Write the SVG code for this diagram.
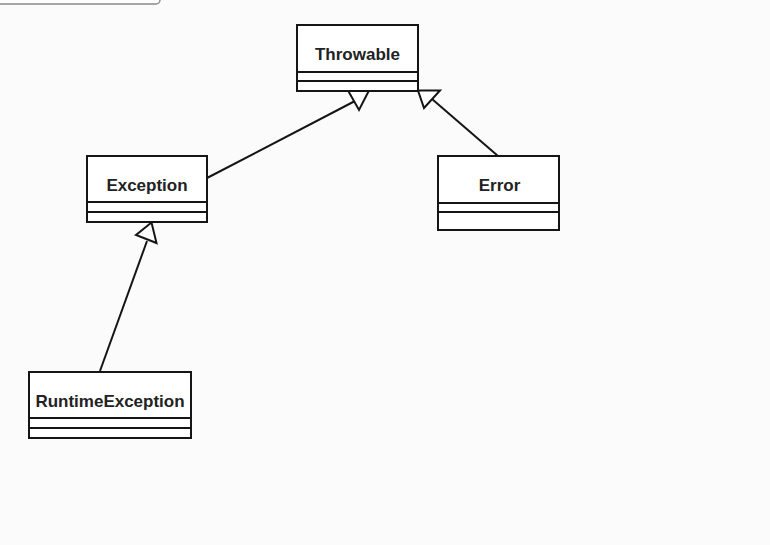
<svg xmlns="http://www.w3.org/2000/svg" width="770" height="545" viewBox="0 0 770 545">
<style>
.box{fill:#ffffff;stroke:#151515;stroke-width:2}
.div{stroke:#151515;stroke-width:2}
.name{font-family:"Liberation Sans",Arial,sans-serif;font-weight:bold;font-size:17px;fill:#222222;text-anchor:middle}
.edge{stroke:#151515;stroke-width:2;fill:none}
.head{fill:#ffffff;stroke:#151515;stroke-width:2;stroke-linejoin:miter}
</style>
<rect x="0" y="0" width="770" height="545" fill="#fbfbfb"/>
<rect x="-10" y="-20" width="170" height="24" rx="4" fill="#fdfdfd" stroke="#8a8a8a" stroke-width="1.5"/>
<g id="connectors">
  <line class="edge" x1="207" y1="178" x2="355" y2="101"/>
  <polygon class="head" points="348,90.5 369,90.5 359,110"/>
  <line class="edge" x1="498" y1="156" x2="432" y2="99"/>
  <polygon class="head" points="418,90.5 440,90.5 424,108"/>
  <line class="edge" x1="100" y1="371" x2="147" y2="241"/>
  <polygon class="head" points="151.5,222.5 136,235 156.5,243"/>
</g>
<g id="Throwable">
  <rect class="box" x="297" y="25" width="121" height="66"/>
  <line class="div" x1="297" y1="72" x2="418" y2="72"/>
  <line class="div" x1="297" y1="81" x2="418" y2="81"/>
  <text class="name" x="357.5" y="60">Throwable</text>
</g>
<g id="Exception">
  <rect class="box" x="87" y="156" width="120" height="66"/>
  <line class="div" x1="87" y1="202" x2="207" y2="202"/>
  <line class="div" x1="87" y1="212" x2="207" y2="212"/>
  <text class="name" x="147" y="191">Exception</text>
</g>
<g id="Error">
  <rect class="box" x="438" y="156" width="121" height="74"/>
  <line class="div" x1="438" y1="203" x2="559" y2="203"/>
  <line class="div" x1="438" y1="212" x2="559" y2="212"/>
  <text class="name" x="499.5" y="191">Error</text>
</g>
<g id="RuntimeException">
  <rect class="box" x="29" y="372" width="162" height="66"/>
  <line class="div" x1="29" y1="418" x2="191" y2="418"/>
  <line class="div" x1="29" y1="428" x2="191" y2="428"/>
  <text class="name" x="110" y="407">RuntimeException</text>
</g>
</svg>
